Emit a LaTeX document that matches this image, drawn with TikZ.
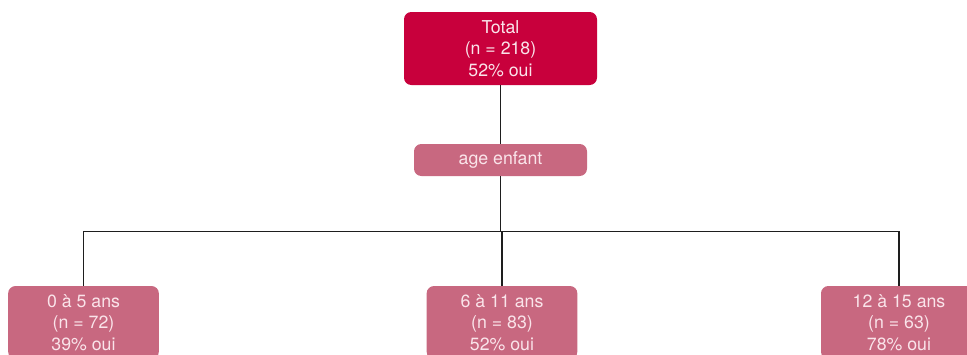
\documentclass[tikz,border=0pt]{standalone}
\usepackage{fontspec}
\setmainfont{TeX Gyre Heros}
\definecolor{topred}{RGB}{200,0,60}
\definecolor{rosebox}{RGB}{200,104,128}
\definecolor{boxtext}{RGB}{250,228,234}
\definecolor{linecol}{RGB}{30,30,30}
\begin{document}
\begin{tikzpicture}[x=0.75pt,y=-0.75pt,
  box/.style={rounded corners=5.5pt, inner sep=0pt, align=center, text=boxtext,
    font=\fontsize{13.3}{16.2}\selectfont},
  totalbox/.style={box, fill=topred, minimum width=144.75pt, minimum height=54.75pt},
  varbox/.style={box, fill=rosebox, minimum width=129.75pt, minimum height=24pt},
  leafbox/.style={box, fill=rosebox, minimum width=113pt, minimum height=54.75pt},
  conn/.style={draw=linecol, line width=1.1pt}]
\useasboundingbox (0,0) rectangle (967,354);
\clip (0,0) rectangle (967,354);
\node[totalbox] (total) at (500.5,48.5) {Total\\(n = 218)\\52\% oui};
\node[varbox] (age) at (500.5,160) {age enfant};
\node[leafbox] (c1) at (83.5,322.5) {0 à 5 ans\\(n = 72)\\39\% oui};
\node[leafbox] (c2) at (502,322.5) {6 à 11 ans\\(n = 83)\\52\% oui};
\node[leafbox, minimum width=117pt] (c3) at (899,322.5) {12 à 15 ans\\(n = 63)\\78\% oui};
\coordinate (j) at (age.south |- 0,231.5);
\draw[conn] (total.south) -- (age.north);
\draw[conn] (age.south) -- (j);
\draw[conn] (j) -| (c1.north);
\draw[conn] (j) -| (c3.north);
\draw[conn] (c2.north |- j) -- (c2.north);
\end{tikzpicture}
\end{document}
